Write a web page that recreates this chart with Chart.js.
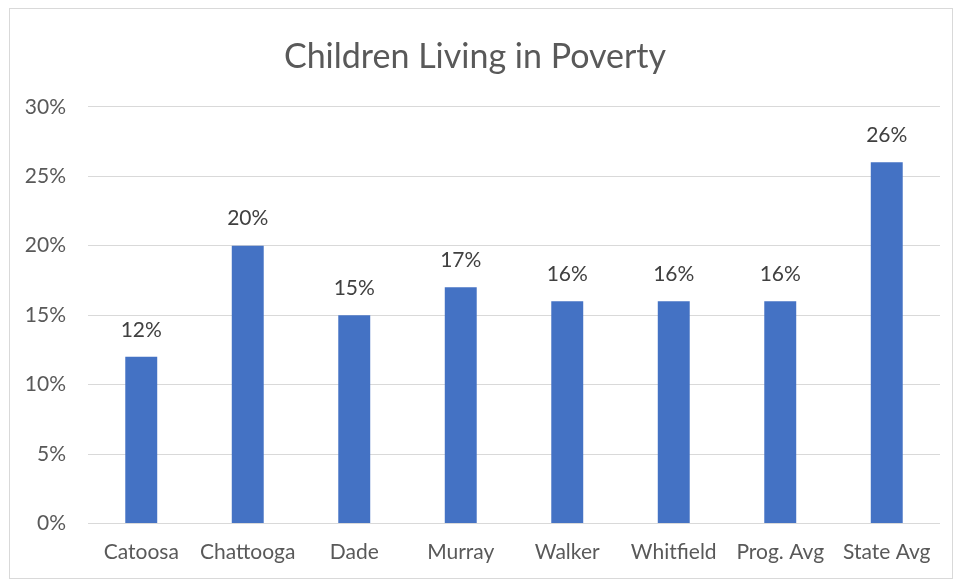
<!DOCTYPE html>
<html>
<head>
<meta charset="utf-8">
<script src="https://cdn.jsdelivr.net/npm/chart.js@4.4.1/dist/chart.umd.min.js"></script>
<style>
  html, body { margin: 0; padding: 0; background: #fff; }
  #box { position: absolute; left: 9px; top: 8px; width: 942px; height: 569px; border: 1px solid #d9d9d9; }
  canvas { display: block; }
</style>
</head>
<body>
<div id="box"><canvas id="ChartCanvas" width="942" height="569"></canvas></div>
<script>
(function() {
    // Chart data
    const counties = ['Catoosa', 'Chattooga', 'Dade', 'Murray', 'Walker', 'Whitfield', 'Prog. Avg', 'State Avg'];
    const povertyRates = [12, 20, 15, 17, 16, 16, 16, 26];
    const yTicks = [0, 5, 10, 15, 20, 25, 30];

    const fontFamily = 'Lato, "Open Sans", sans-serif';

    // small plugin to put the value above each bar
    const valueLabels = {
        id: 'valueLabels',
        afterDatasetsDraw(chart) {
            const ctx = chart.ctx;
            const meta = chart.getDatasetMeta(0);
            ctx.save();
            ctx.font = '21px ' + fontFamily;
            ctx.fillStyle = '#404040';
            ctx.textAlign = 'center';
            ctx.textBaseline = 'middle';
            meta.data.forEach(function(bar, i) {
                ctx.fillText(povertyRates[i] + '%', bar.x, bar.y - 27);
            });
            ctx.restore();
        }
    };

    const config = {
        type: 'bar',
        data: {
            labels: counties,
            datasets: [{
                data: povertyRates,
                backgroundColor: '#4472C4',
                borderWidth: 0,
                barPercentage: 0.3,
                categoryPercentage: 1.0
            }]
        },
        options: {
            responsive: false,
            animation: false,
            layout: { padding: { left: 0, right: 12, top: 0, bottom: 0 } },
            plugins: {
                legend: { display: false },
                tooltip: { enabled: false },
                title: {
                    display: true,
                    text: 'Children Living in Poverty',
                    color: '#595959',
                    font: { family: fontFamily, size: 34, weight: 'normal' },
                    padding: { top: 28, bottom: 29 }
                }
            },
            scales: {
                x: {
                    grid: { display: false, drawTicks: false },
                    border: { display: false },
                    ticks: { color: '#595959', font: { family: fontFamily, size: 21 }, padding: 16, maxRotation: 0, autoSkip: false },
                    afterFit: function(scale) { scale.height = 54.5; }
                },
                y: {
                    min: 0,
                    max: 30,
                    afterBuildTicks: function(scale) { scale.ticks = yTicks.map(v => ({ value: v })); },
                    grid: { color: '#d9d9d9', lineWidth: 1, drawTicks: false },
                    border: { display: false },
                    ticks: {
                        color: '#595959',
                        font: { family: fontFamily, size: 21 },
                        padding: 22,
                        callback: function(v) { return v + '%'; }
                    },
                    afterFit: function(scale) { scale.width = 78; }
                }
            }
        },
        plugins: [valueLabels]
    };

    new Chart(document.getElementById('ChartCanvas'), config);
})();
</script>
</body>
</html>
